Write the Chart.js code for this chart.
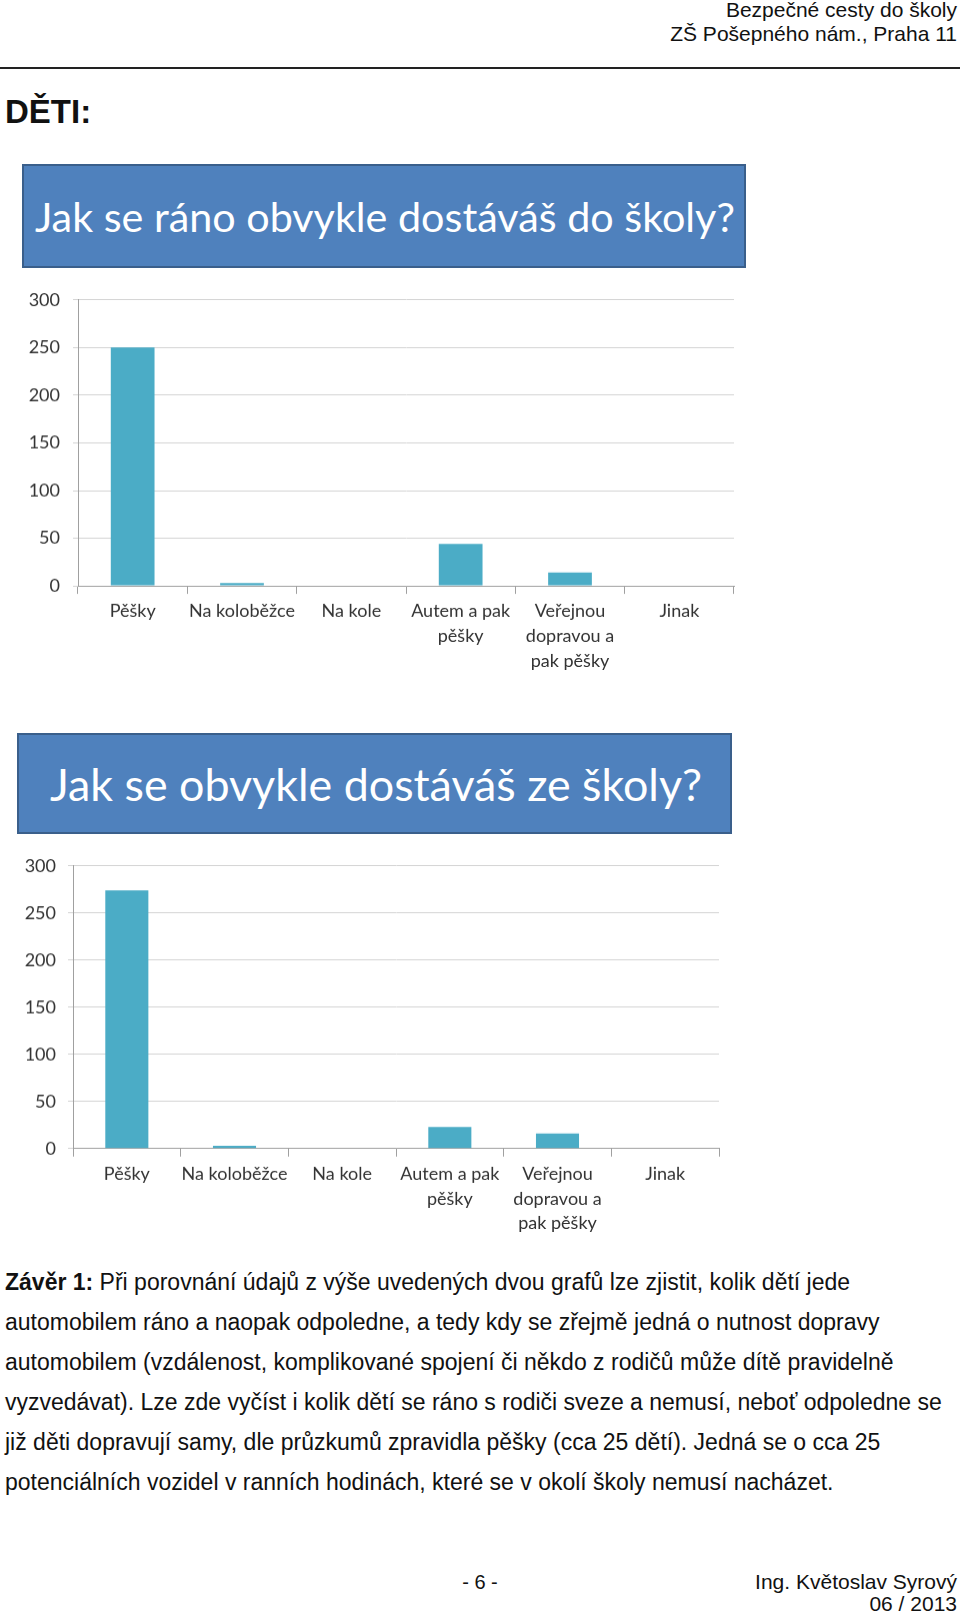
<!DOCTYPE html>
<html lang="cs">
<head>
  <meta charset="UTF-8" />
  <title>Bezpečné cesty do školy</title>
  <script src="https://cdn.jsdelivr.net/npm/chart.js"></script>
  <style>
    body {
      margin: 0;
      padding: 0;
      width: 960px;
      height: 1613px;
      position: relative;
      background: #ffffff;
      font-family: 'Liberation Sans', Arial, sans-serif;
      color: #111;
      overflow: hidden;
    }
    .abs { position: absolute; white-space: nowrap; }
    .head {
      right: 3px;
      font-size: 21px;
      line-height: 24px;
      text-align: right;
    }
    .rule {
      left: 0; top: 67px; width: 960px; height: 2px;
      background: #222;
    }
    .deti {
      left: 5px; top: 92px;
      font-size: 33px; line-height: 40px;
      font-weight: bold;
    }
    .qbox {
      position: absolute;
      box-sizing: border-box;
      background: #4f81bd;
      border: 2px solid #3a5f8b;
      color: #fff;
      font-family: Lato, 'Open Sans', sans-serif;
      display: flex;
      align-items: center;
      white-space: nowrap;
    }
    .chartbox { position: absolute; }
    .para {
      left: 5px; top: 1263px;
      font-size: 23px;
      line-height: 39.9px;
    }
    .para b { font-weight: bold; }
  </style>
</head>
<body>
  <div class="abs head" style="top: -2px;">Bezpečné cesty do školy</div>
  <div class="abs head" style="top: 22px;">ZŠ Pošepného nám., Praha 11</div>
  <div class="abs rule"></div>
  <div class="abs deti">DĚTI:</div>

  <div class="qbox" style="left: 22px; top: 164px; width: 724px; height: 104px; padding-left: 11px; font-size: 41.3px;">Jak se ráno obvykle dostáváš do školy?</div>
  <div class="chartbox" style="left: 0; top: 276.4px; width: 760px; height: 403.6px;">
    <canvas id="morningChart"></canvas>
  </div>

  <div class="qbox" style="left: 17px; top: 733px; width: 715px; height: 101px; padding-left: 31px; font-size: 44.8px;">Jak se obvykle dostáváš ze školy?</div>
  <div class="chartbox" style="left: 0; top: 843.2px; width: 760px; height: 401.8px;">
    <canvas id="afternoonChart"></canvas>
  </div>

  <div class="abs para"><b>Závěr 1:</b> Při porovnání údajů z výše uvedených dvou grafů lze zjistit, kolik dětí jede<br>automobilem ráno a naopak odpoledne, a tedy kdy se zřejmě jedná o nutnost dopravy<br>automobilem (vzdálenost, komplikované spojení či někdo z rodičů může dítě pravidelně<br>vyzvedávat). Lze zde vyčíst i kolik dětí se ráno s rodiči sveze a nemusí, neboť odpoledne se<br>již děti dopravují samy, dle průzkumů zpravidla pěšky (cca 25 dětí). Jedná se o cca 25<br>potenciálních vozidel v ranních hodinách, které se v okolí školy nemusí nacházet.</div>

  <div class="abs" style="left: 448px; top: 1570px; width: 64px; text-align: center; font-size: 20px; line-height: 24px;">- 6 -</div>
  <div class="abs head" style="top: 1570px;">Ing. Květoslav Syrový</div>
  <div class="abs head" style="top: 1592px;">06 / 2013</div>

  <script>
    // kategorie (stejné pro oba grafy)
    const categories = [
      'Pěšky',
      'Na koloběžce',
      'Na kole',
      ['Autem a pak', 'pěšky'],
      ['Veřejnou', 'dopravou a', 'pak pěšky'],
      'Jinak'
    ];
    // ráno do školy
    const morningValues = [250, 3, 0, 44, 14, 0];
    // odpoledne ze školy
    const afternoonValues = [274, 3, 0, 23, 16, 0];
    const yTicks = [0, 50, 100, 150, 200, 250, 300];

    const barColor = '#4bacc6';
    const gridColor = '#d4d4d4';
    const axisColor = '#a0a0a0';
    const labelFont = { family: 'Lato', size: 18, lineHeight: 1.37 };

    function makeChart(id, values, box) {
      const ctx = document.getElementById(id).getContext('2d');
      return new Chart(ctx, {
        type: 'bar',
        data: {
          labels: categories,
          datasets: [{
            data: values,
            backgroundColor: barColor,
            barPercentage: 0.4,
            categoryPercentage: 1.0
          }]
        },
        options: {
          responsive: true,
          maintainAspectRatio: false,
          animation: false,
          layout: {
            padding: { top: 0, right: box.right, left: 0, bottom: 0 }
          },
          plugins: {
            legend: { display: false },
            tooltip: { enabled: false }
          },
          scales: {
            x: {
              grid: {
                display: true,
                offset: true,
                drawOnChartArea: false,
                color: axisColor,
                tickLength: 8
              },
              border: { color: axisColor, width: 1 },
              ticks: {
                color: '#333333',
                font: labelFont,
                padding: 5,
                maxRotation: 0,
                autoSkip: false
              },
              afterFit: (scale) => { scale.height = box.xHeight; }
            },
            y: {
              min: 0,
              max: 300,
              afterBuildTicks: (scale) => {
                scale.ticks = yTicks.map(v => ({ value: v }));
              },
              grid: {
                color: gridColor,
                tickLength: 5
              },
              border: { color: axisColor, width: 1 },
              ticks: {
                color: '#333333',
                font: { family: 'Lato', size: 18 },
                padding: box.yPad
              },
              afterFit: (scale) => { scale.width = box.yWidth; }
            }
          }
        }
      });
    }

    makeChart('morningChart', morningValues, { right: 26, xHeight: 94.5, yWidth: 78, yPad: 13 });
    makeChart('afternoonChart', afternoonValues, { right: 41, xHeight: 97, yWidth: 73, yPad: 12 });
  </script>
</body>
</html>
